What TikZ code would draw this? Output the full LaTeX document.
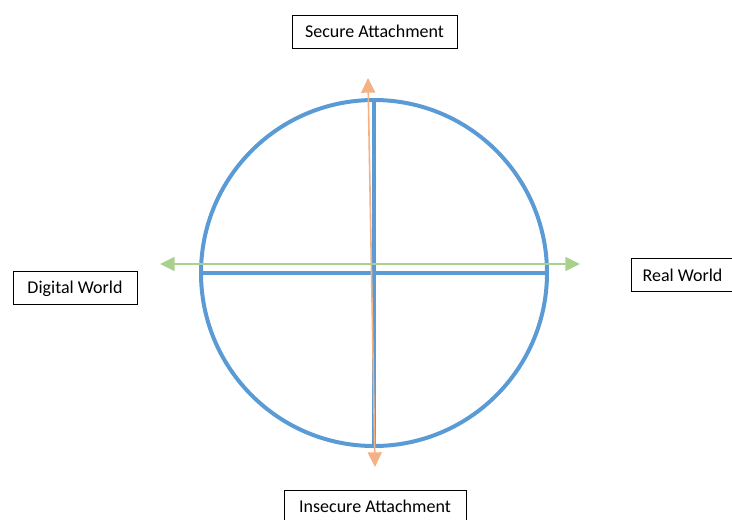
\documentclass[tikz,border=0pt]{standalone}
\usepackage{fontspec}
\setmainfont{Carlito}
\usetikzlibrary{
    arrows.meta,         % For arrow tips
    positioning,         % For relative placement
}

\definecolor{ringblue}{HTML}{5B9BD5}
\definecolor{axisorange}{HTML}{F4B183}
\definecolor{axisgreen}{HTML}{A9D18E}

\begin{document}
\begin{tikzpicture}[
    x=0.75pt, y=-0.75pt, % Work in pixels of the reference
    ring/.style={draw=ringblue, circle, line width=3pt, minimum size=259.5pt, inner sep=0pt}, % Style for the circle
    diameter/.style={draw=ringblue, line width=3.4pt}, % Style for the inner cross
    vaxis/.style={axisorange, line width=1.2pt, {Triangle[length=11pt, width=10.5pt]}-{Triangle[length=11pt, width=10.5pt]}}, % Vertical arrow
    haxis/.style={axisgreen, line width=1.2pt, {Triangle[length=11pt, width=10.5pt]}-{Triangle[length=11pt, width=10.5pt]}}, % Horizontal arrow
    labelbox/.style={draw, line width=0.75pt, fill=white, inner sep=0pt, minimum height=24.75pt,
        text height=10pt, text depth=1pt, font=\fontsize{13.5}{15}\selectfont} % Style for the labels
]

    % Page frame
    \useasboundingbox (0,0) rectangle (732,519);
    \clip (0,0) rectangle (732,519);

    % Circle and its cross
    \node[ring] (ring) at (374,273) {};
    \draw[diameter] (ring.north) -- (ring.south);
    \draw[diameter] (ring.west) -- (ring.east);

    % Axis ends
    \coordinate (topTip) at (368,78);
    \coordinate (bottomTip) at (375,467);
    \coordinate (leftTip) at (160,264);
    \coordinate (rightTip) at (580,264);

    % Axes
    \draw[vaxis] (bottomTip) -- (topTip);
    \draw[haxis] (leftTip) -- (rightTip);

    % Labels
    \node[labelbox, minimum width=123.75pt] (secure) at (374.5,31.5) {Secure Attachment};
    \node[labelbox, minimum width=136.5pt] (insecure) at (375,506.5) {Insecure Attachment};
    \node[labelbox, minimum width=93pt] (digital) at (75,287.5) {Digital World};
    \node[labelbox, minimum width=77.25pt] (real) at (682.5,275) {Real World};

\end{tikzpicture}
\end{document}
